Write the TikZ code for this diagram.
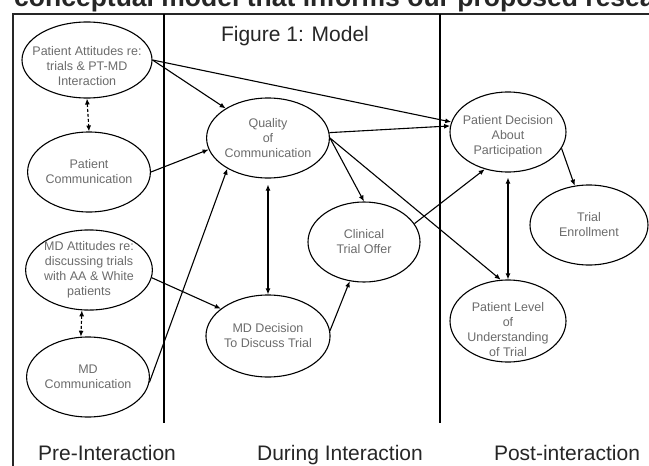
\documentclass[tikz,border=0pt]{standalone}
\usepackage{fontspec}
\setmainfont{Liberation Sans}
\usetikzlibrary{shapes.geometric,arrows.meta}
\begin{document}
\begin{tikzpicture}[x=1pt,y=-1pt,
  ell/.style={ellipse, draw, line width=1.1pt, inner sep=0pt, text=black!58,
    font=\fontsize{12.5}{15}\selectfont, align=center},
  txt/.style={text=black!58, font=\fontsize{12.5}{15}\selectfont, align=center, inner sep=0pt},
  lbl/.style={font=\fontsize{21}{24}\selectfont, text=black!85, inner sep=0pt, anchor=base},
  conn/.style={line width=1.1pt, -{Latex[length=6pt,width=5pt]}},
  both/.style={line width=1.1pt, {Latex[length=6pt,width=5pt]}-{Latex[length=6pt,width=5pt]}},
  dashboth/.style={both, dash pattern=on 3pt off 2pt},
  frameline/.style={line width=1.6pt, black!85},
  divider/.style={line width=1.3pt}]
\useasboundingbox (0,0) rectangle (649,466);
% cropped heading
\node[font=\fontsize{26.5}{30}\bfseries\selectfont, anchor=base west, inner sep=0pt, text=black!85] (heading) at (14,6) {conceptual model that informs our proposed research};
% frame and dividers
\draw[frameline] (13,480) -- (13,14) -- (670,14);
\coordinate (d1t) at (164,14); \coordinate (d1b) at (164,423);
\coordinate (d2t) at (440,14); \coordinate (d2b) at (440,423);
\draw[divider] (d1t) -- (d1b);
\draw[divider] (d2t) -- (d2b);
% labels
\node[lbl] (fig) at (295,41.5) {Figure 1: Model};
\node[lbl] (pre) at (107,460) {Pre-Interaction};
\node[lbl] (during) at (340,460) {During Interaction};
\node[lbl] (post) at (567,460) {Post-interaction};
% ellipses
\node[ell, minimum width=130pt, minimum height=76pt] (pa) at (87,60) {};
\node[txt] (patext) at (87,66) {Patient Attitudes re:\\ trials \& PT-MD\\ Interaction};
\node[ell, minimum width=114pt, minimum height=80pt] (pc) at (89,172) {Patient\\ Communication};
\node[ell, minimum width=114pt, minimum height=80pt] (ma) at (89,270) {MD Attitudes re:\\ discussing trials\\ with AA \& White\\ patients};
\node[ell, minimum width=116pt, minimum height=80pt] (mc) at (88,377) {MD\\ Communication};
\node[ell, minimum width=116pt, minimum height=80pt] (q) at (268,138) {Quality\\ of\\ Communication};
\node[ell, minimum width=116pt, minimum height=82pt] (mdd) at (268,336) {MD Decision\\ To Discuss Trial};
\node[ell, minimum width=112pt, minimum height=80pt] (cto) at (364,242) {Clinical\\ Trial Offer};
\node[ell, minimum width=116pt, minimum height=80pt] (pd) at (508,132) {};
\node[txt] (pdtext) at (508,136) {Patient Decision\\ About\\ Participation};
\node[ell, minimum width=118pt, minimum height=80pt] (te) at (589,225) {Trial\\ Enrollment};
\node[ell, minimum width=116pt, minimum height=82pt] (plu) at (508,321) {};
\node[txt] (plutext) at (508,330) {Patient Level\\ of\\ Understanding\\ of Trial};
% connectors
\draw[dashboth] (pa.south) -- (pc.north);
\draw[dashboth] (ma.260) -- (mc.100);
\draw[conn] (pa.east) -- (q.145);
\draw[conn] (pa.east) -- (pd.170);
\draw[conn] (pc.east) -- (q.191);
\draw[conn] (ma.353) -- (mdd.150);
\draw[conn] (mc.355) -- (q.217);
\draw[both, shorten <=6pt] (q.south) -- (mdd.north);
\draw[conn] (mdd.5) -- (cto.250);
\draw[conn] (q.5) -- (pd.174);
\draw[conn] (q.east) -- (cto.north);
\draw[conn] (q.east) -- (plu.100);
\draw[conn] (cto.20) -- (pd.238);
\draw[both, shorten <=5pt] (pd.south) -- (plu.north);
\draw[conn] (pd.343) -- (te.110);
\end{tikzpicture}
\end{document}
